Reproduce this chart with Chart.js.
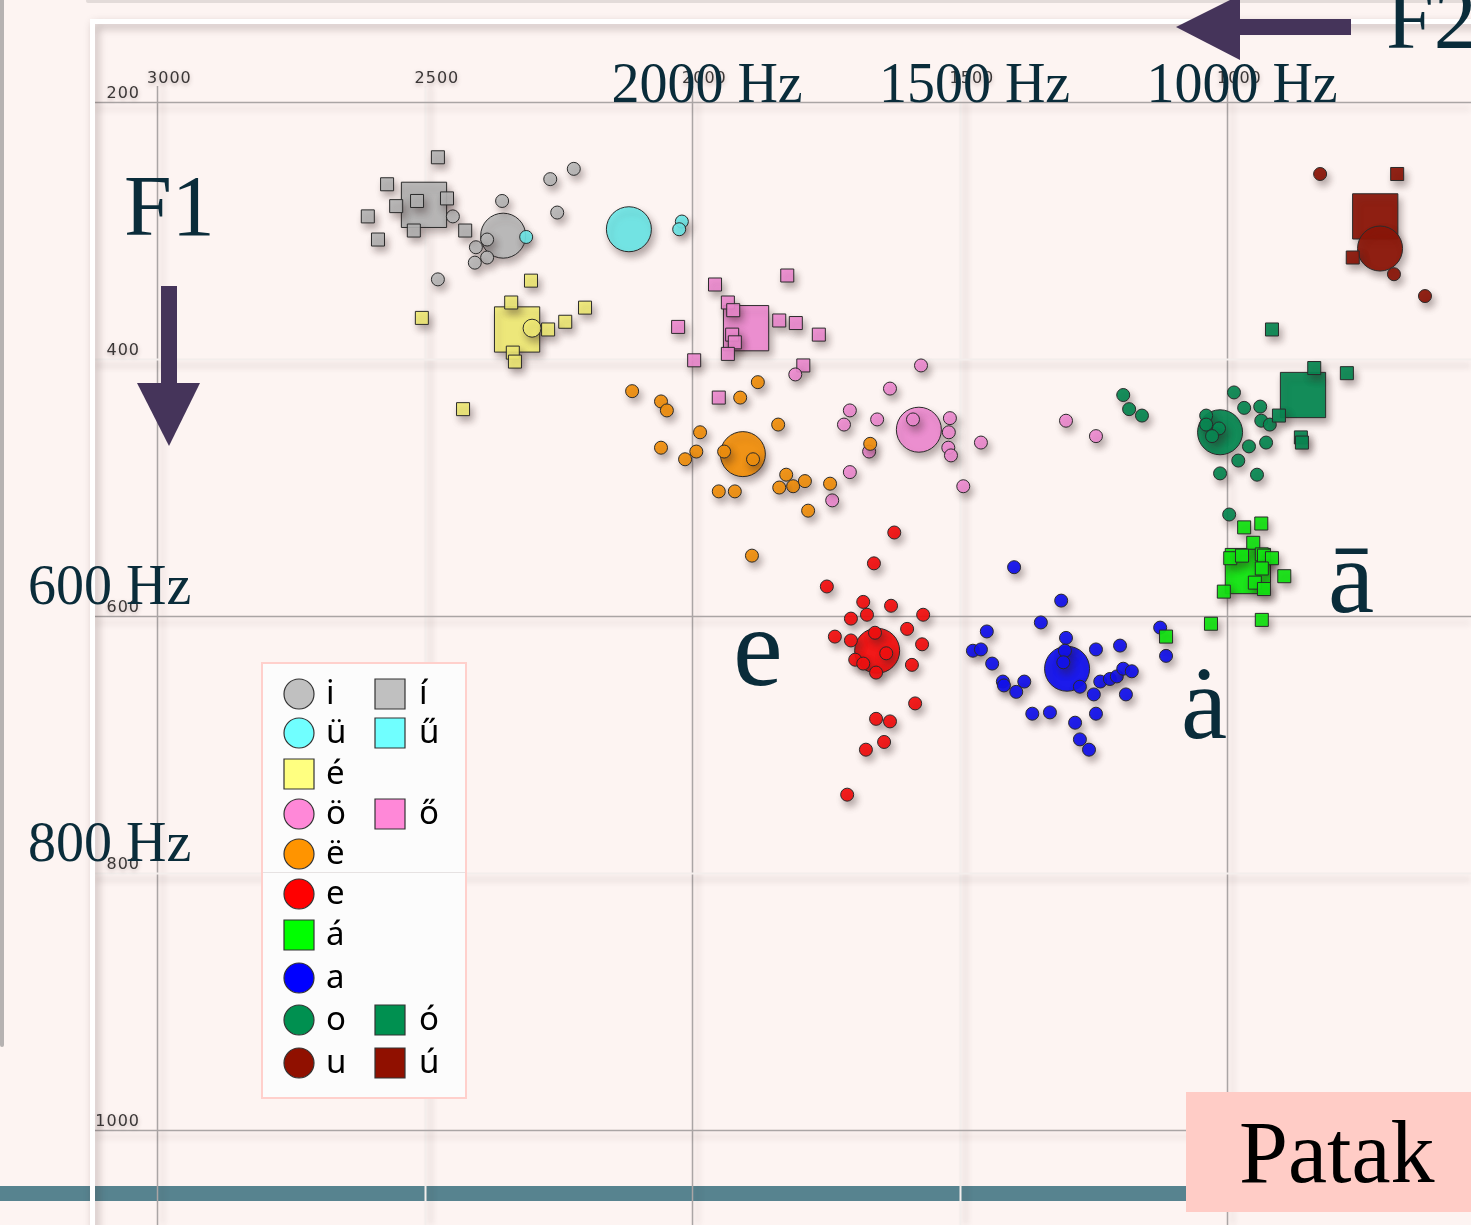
<!DOCTYPE html>
<html>
<head>
<meta charset="utf-8">
<script src="https://cdn.jsdelivr.net/npm/chart.js@4.4.0/dist/chart.umd.min.js"></script>
<style>
  html, body { margin: 0; padding: 0; background: #fdf4f2; overflow: hidden; }
  #wrap { position: relative; width: 1471px; height: 1225px; }
</style>
</head>
<body>
<div id="wrap"><canvas id="chart"></canvas></div>
<script>
// axis ticks (Hz)
const xTicks = [3000, 2500, 2000, 1500, 1000];
const yTicks = [200, 400, 600, 800, 1000];
const xHzLabels = [2000, 1500, 1000];
const yHzLabels = [600, 800];

// individual tokens, [F2, F1] in Hz
const tokens_i = [[2355,277],[2265,260],[2221,252],[2252,286],[2447,289],[2383,307],[2404,313],[2383,321],[2406,325],[2475,338]];
const tokens_ue = [[2310,305],[2019,293],[2024,299]];
const tokens_ii = [[2475,243],[2570,264],[2553,281],[2514,277],[2458,275],[2606,289],[2520,300],[2424,300],[2587,307]];
const tokens_ee = [[2301,339],[2338,356],[2200,360],[2237,371],[2269,377],[2335,395],[2331,402],[2505,368],[2428,439]];
const tokens_ee_round = [[2299,376]];
const tokens_oee = [[1822,335],[1957,342],[1933,356],[1923,362],[2026,375],[1837,370],[1806,372],[1763,381],[1925,381],[1920,387],[1933,396],[1996,401],[1792,405],[1950,430]];
const tokens_oe = [[1807,412],[1572,405],[1630,423],[1705,440],[1716,451],[1654,447],[1587,447],[1518,446],[1520,457],[1521,469],[1516,475],[1460,465],[1493,499],[1705,488],[1738,510],[1669,472],[1301,448],[1245,460]];
const tokens_edia = [[2112,425],[2058,433],[2047,440],[1877,418],[1910,430],[1839,451],[1985,457],[2058,469],[1992,472],[2013,478],[1940,472],[1886,478],[1667,466],[1950,503],[1920,503],[1824,490],[1811,499],[1837,500],[1789,495],[1742,497],[1783,518],[1888,553]];
const tokens_e = [[1622,535],[1660,559],[1748,577],[1680,589],[1628,592],[1703,602],[1673,599],[1568,599],[1733,616],[1703,619],[1598,610],[1570,622],[1658,613],[1637,629],[1695,634],[1680,637],[1656,644],[1589,638],[1583,668],[1656,680],[1630,682],[1641,698],[1675,704],[1710,739]];
const tokens_a = [[1398,562],[1310,588],[1348,605],[1449,612],[1475,627],[1460,626],[1439,637],[1301,617],[1303,627],[1306,636],[1245,626],[1200,623],[1419,651],[1417,654],[1379,651],[1394,659],[1275,655],[1237,651],[1219,649],[1206,647],[1194,641],[1178,643],[1249,661],[1189,661],[1364,676],[1331,675],[1245,676],[1284,683],[1275,696],[1258,704],[1125,609],[1114,631]];
const tokens_aa = [[968,531],[936,528],[951,543],[994,555],[972,553],[935,552],[931,553],[916,555],[935,563],[893,569],[948,574],[931,579],[1006,581],[1030,606],[935,603],[1114,616]];
const tokens_o = [[1194,428],[1183,439],[1159,444],[987,426],[968,438],[938,437],[936,448],[920,451],[927,465],[959,468],[979,479],[1013,489],[944,490],[1039,444],[1039,451],[1015,454],[1028,460],[996,521]];
const tokens_oo = [[916,377],[837,407],[776,411],[903,444],[862,461],[860,465]];
const tokens_u = [[826,256],[688,334],[630,351]];
const tokens_uu = [[682,256],[765,321]];

// vowel means
const meanVowels = ['i', 'ü', 'í', 'é', 'ö', 'ő', 'ë', 'e', 'a', 'á', 'o', 'ó', 'u', 'ú'];
const meanF2 = [2353, 2118, 2501, 2327, 1576, 1899, 1905, 1654, 1299, 961, 1013, 858, 714, 723];
const meanF1 = [304, 299, 280, 377, 455, 376, 474, 627, 641, 565, 457, 428, 314, 289];

// legend columns
const legendCol1 = ['i', 'ü', 'é', 'ö', 'ë', 'e', 'á', 'a', 'o', 'u'];
const legendCol2 = ['í', 'ű', '', 'ő', '', '', '', '', 'ó', 'ú'];

const STYLE = {
  'i': { shape: 'circle', fill: 'rgba(185,185,185,0.9)', key: '#c0c0c0' },
  'ü': { shape: 'circle', fill: 'rgba(108,232,232,0.92)', key: '#70ffff' },
  'í': { shape: 'rect', fill: 'rgba(182,182,182,0.9)', key: '#c0c0c0' },
  'ű': { shape: 'rect', fill: 'rgba(108,232,232,0.92)', key: '#70ffff' },
  'é': { shape: 'rect', fill: 'rgba(242,237,118,0.92)', key: '#ffff80' },
  'ö': { shape: 'circle', fill: 'rgba(240,140,210,0.92)', key: '#ff88d8' },
  'ő': { shape: 'rect', fill: 'rgba(240,140,210,0.92)', key: '#ff88d8' },
  'ë': { shape: 'circle', fill: 'rgba(243,146,14,0.94)', key: '#ff9400' },
  'e': { shape: 'circle', fill: 'rgba(245,16,16,0.94)', key: '#ff0000' },
  'á': { shape: 'rect', fill: 'rgba(18,232,18,0.94)', key: '#00ff00' },
  'a': { shape: 'circle', fill: 'rgba(18,18,240,0.94)', key: '#0000ff' },
  'o': { shape: 'circle', fill: 'rgba(8,138,84,0.94)', key: '#009050' },
  'ó': { shape: 'rect', fill: 'rgba(8,138,84,0.94)', key: '#009050' },
  'u': { shape: 'circle', fill: 'rgba(140,22,8,0.94)', key: '#901000' },
  'ú': { shape: 'rect', fill: 'rgba(140,22,8,0.94)', key: '#901000' }
};

const tokenSets = [
  ['á', tokens_aa], ['ó', tokens_oo], ['ú', tokens_uu], ['u', tokens_u], ['o', tokens_o],
  ['a', tokens_a], ['e', tokens_e], ['ë', tokens_edia], ['ö', tokens_oe], ['ő', tokens_oee],
  ['é', tokens_ee], ['ü', tokens_ue], ['í', tokens_ii], ['i', tokens_i]
];

const datasets = [];
tokenSets.forEach(([v, pts]) => {
  const st = STYLE[v];
  datasets.push({
    label: v,
    data: pts.map(p => ({ x: p[0], y: p[1] })),
    pointStyle: st.shape,
    pointRadius: st.shape === 'rect' ? 9.2 : 6.5,
    backgroundColor: st.fill,
    borderColor: '#2b2b2b',
    borderWidth: 1
  });
});
datasets.push({
  label: 'é',
  data: tokens_ee_round.map(p => ({ x: p[0], y: p[1] })),
  pointStyle: 'circle',
  pointRadius: 9,
  backgroundColor: STYLE['é'].fill,
  borderColor: '#2b2b2b',
  borderWidth: 1
});
meanVowels.forEach((v, k) => {
  const st = STYLE[v];
  datasets.push({
    label: v + ' mean',
    data: [{ x: meanF2[k], y: meanF1[k] }],
    pointStyle: st.shape,
    pointRadius: st.shape === 'rect' ? 32 : 22.5,
    backgroundColor: st.fill,
    borderColor: '#2b2b2b',
    borderWidth: 1
  });
});

const INK = '#0a2c3a';
const ARROW = '#45345a';

function line(ctx, x1, y1, x2, y2) {
  ctx.beginPath(); ctx.moveTo(x1, y1); ctx.lineTo(x2, y2); ctx.stroke();
}

const backdrop = {
  id: 'backdrop',
  beforeDraw(chart) {
    const ctx = chart.ctx, xs = chart.scales.x, ys = chart.scales.y;
    const W = chart.width, H = chart.height;
    ctx.save();
    ctx.fillStyle = '#fdf4f2';
    ctx.fillRect(0, 0, W, H);

    // panel edges outside the frame
    ctx.strokeStyle = '#b6b2b2'; ctx.lineWidth = 4; ctx.lineCap = 'round';
    line(ctx, 2, -5, 2, 1045);
    ctx.strokeStyle = 'rgba(0,0,0,0.10)'; ctx.lineWidth = 4;
    line(ctx, 88, 1, W + 5, 1);
    ctx.lineCap = 'butt';

    // bottom band
    ctx.fillStyle = '#57838f';
    ctx.fillRect(0, 1186, 1190, 15);

    // grid
    const darkX = [3000, 2000, 1000], darkY = [200, 600, 1000];
    xTicks.forEach(v => {
      const px = Math.round(xs.getPixelForValue(v)) + 0.5;
      ctx.save();
      ctx.shadowColor = 'rgba(60,40,40,0.22)'; ctx.shadowBlur = 6; ctx.shadowOffsetX = 5;
      ctx.strokeStyle = darkX.includes(v) ? '#aaa5a5' : '#f3eeec';
      ctx.lineWidth = darkX.includes(v) ? 1.5 : 2;
      line(ctx, px, 86, px, H);
      ctx.restore();
    });
    yTicks.forEach(v => {
      const py = Math.round(ys.getPixelForValue(v)) + 0.5;
      ctx.save();
      ctx.shadowColor = 'rgba(60,40,40,0.22)'; ctx.shadowBlur = 6; ctx.shadowOffsetY = 6;
      ctx.strokeStyle = darkY.includes(v) ? '#aaa5a5' : '#f3eeec';
      ctx.lineWidth = darkY.includes(v) ? 1.5 : 2;
      line(ctx, 95, py, W, py);
      ctx.restore();
    });

    // white frame with inner shadow
    ctx.save();
    ctx.shadowColor = 'rgba(60,40,40,0.35)'; ctx.shadowBlur = 8; ctx.shadowOffsetX = 3; ctx.shadowOffsetY = 4;
    ctx.strokeStyle = '#ffffff'; ctx.lineWidth = 5;
    ctx.beginPath(); ctx.moveTo(92.5, H + 10); ctx.lineTo(92.5, 21.5); ctx.lineTo(W + 10, 21.5); ctx.stroke();
    ctx.restore();

    // small tick labels
    ctx.save();
    ctx.font = '16px "DejaVu Sans"';
    ctx.letterSpacing = '1px';
    ctx.fillStyle = '#3a3636';
    ctx.shadowColor = 'rgba(80,60,60,0.35)'; ctx.shadowBlur = 4; ctx.shadowOffsetY = 2;
    ctx.textBaseline = 'alphabetic';
    ctx.textAlign = 'left';
    xTicks.forEach(v => ctx.fillText(String(v), xs.getPixelForValue(v) - 10, 83));
    ctx.textAlign = 'right';
    yTicks.forEach(v => ctx.fillText(String(v), 140, ys.getPixelForValue(v) - 4));
    ctx.restore();

    // arrows
    ctx.fillStyle = ARROW;
    ctx.fillRect(161, 286, 16, 98);
    ctx.beginPath(); ctx.moveTo(137, 383); ctx.lineTo(200, 383); ctx.lineTo(169, 446); ctx.closePath(); ctx.fill();
    ctx.fillRect(1238, 19, 113, 16);
    ctx.beginPath(); ctx.moveTo(1176, 27); ctx.lineTo(1240, -5); ctx.lineTo(1240, 60); ctx.closePath(); ctx.fill();

    // Hz labels
    ctx.fillStyle = INK;
    ctx.font = '56px "Liberation Serif"';
    ctx.textAlign = 'center';
    xHzLabels.forEach(v => ctx.fillText(v + ' Hz', xs.getPixelForValue(v) + 15, 102));
    ctx.textAlign = 'left';
    yHzLabels.forEach(v => ctx.fillText(v + ' Hz', 28, ys.getPixelForValue(v) - 12));
    ctx.font = '86px "Liberation Serif"';
    ctx.fillText('F1', 124, 235);
    ctx.fillText('F2', 1386, 48);
    ctx.restore();
  },
  beforeDatasetsDraw(chart) {
    const ctx = chart.ctx;
    ctx.save();
    ctx.shadowColor = 'rgba(50,30,30,0.38)';
    ctx.shadowBlur = 7; ctx.shadowOffsetX = 3; ctx.shadowOffsetY = 5;
  },
  afterDatasetsDraw(chart) {
    chart.ctx.restore();
  },
  afterDraw(chart) {
    const ctx = chart.ctx;
    ctx.save();
    // vowel letters
    ctx.fillStyle = INK;
    ctx.font = '112px "Liberation Serif"';
    ctx.fillText('e', 733, 685);
    ctx.font = '104px "Liberation Serif"';
    ctx.fillText('ȧ', 1181, 738);
    ctx.fillText('ā', 1328, 612);

    // legend box
    ctx.fillStyle = '#fcfcfc';
    ctx.fillRect(262, 663, 204, 435);
    ctx.strokeStyle = '#ffd0cc'; ctx.lineWidth = 2;
    ctx.strokeRect(262, 663, 204, 435);
    ctx.strokeStyle = '#e6e2e2'; ctx.lineWidth = 1;
    line(ctx, 263, 872.5, 465, 872.5);
    const rows = [694, 733, 774, 814, 854, 894, 935, 978, 1020, 1063];
    const marker = (shape, x, y, fill) => {
      ctx.fillStyle = fill; ctx.strokeStyle = '#333'; ctx.lineWidth = 1.2;
      ctx.beginPath();
      if (shape === 'circle') ctx.arc(x, y, 15, 0, Math.PI * 2);
      else ctx.rect(x - 15, y - 15, 30, 30);
      ctx.fill(); ctx.stroke();
    };
    ctx.font = '33px "Noto Sans"';
    ctx.textBaseline = 'middle';
    legendCol1.forEach((v, k) => {
      marker(STYLE[v].shape, 299, rows[k], STYLE[v].key);
      ctx.fillStyle = '#000';
      ctx.fillText(v, 326, rows[k] + 1);
    });
    legendCol2.forEach((v, k) => {
      if (!v) return;
      marker(STYLE[v].shape, 390, rows[k], STYLE[v].key);
      ctx.fillStyle = '#000';
      ctx.fillText(v, 419, rows[k] + 1);
    });

    // site box
    ctx.textBaseline = 'alphabetic';
    ctx.fillStyle = '#ffccc6';
    ctx.fillRect(1186, 1092, 290, 120);
    ctx.fillStyle = '#000';
    ctx.font = '88px "Liberation Serif"';
    ctx.fillText('Patak', 1239, 1182);
    ctx.restore();
  }
};

new Chart(document.getElementById('chart'), {
  type: 'scatter',
  data: { datasets },
  options: {
    responsive: true,
    maintainAspectRatio: false,
    animation: false,
    events: [],
    layout: { padding: 0, autoPadding: false },
    plugins: { legend: { display: false }, tooltip: { enabled: false } },
    scales: {
      x: { type: 'linear', reverse: true, min: 544, max: 3293.5, display: false },
      y: { type: 'linear', reverse: true, min: 120.6, max: 1073.9, display: false }
    }
  },
  plugins: [backdrop]
});
</script>
</body>
</html>
